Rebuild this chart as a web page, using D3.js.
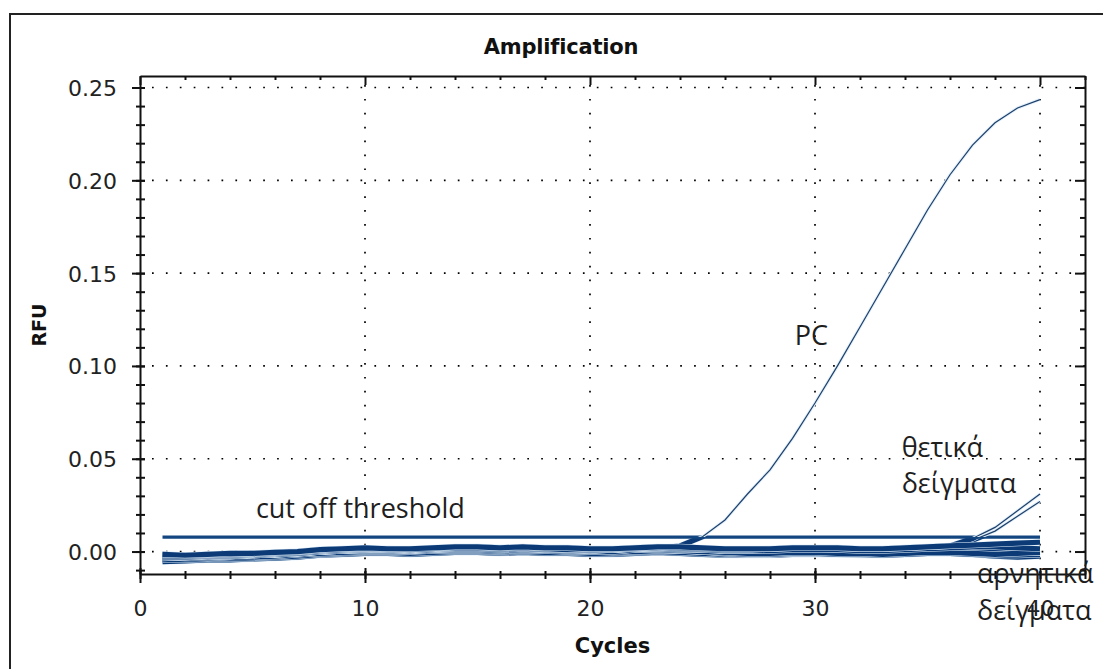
<!DOCTYPE html>
<html>
<head>
<meta charset="utf-8">
<script src="https://cdn.jsdelivr.net/npm/d3@7"></script>
<style>
  body { margin: 0; background: #fff; }
  svg { display: block; }
</style>
</head>
<body>
<div id="chart"></div>
<script>
// cycles 1..40
const cycles = [1,2,3,4,5,6,7,8,9,10,11,12,13,14,15,16,17,18,19,20,21,22,23,24,25,26,27,28,29,30,31,32,33,34,35,36,37,38,39,40];

// negative samples (RFU)
const neg1 = [-.0035,-.003,-.003,-.0025,-.002,-.0015,-.001,0,.0005,.001,.001,.0005,.001,.0015,.0015,.001,.0015,.001,.001,.0005,.0005,.001,.0015,.001,.0005,0,-.0005,-.0005,0,0,0,-.0005,-.0005,0,.0005,.0005,0,-.0005,-.0005,-.0005];
const neg2 = [-.0015,-.002,-.0015,-.001,-.001,-.0005,0,.001,.0015,.002,.0015,.0015,.002,.0025,.0025,.002,.0025,.002,.002,.0015,.0015,.002,.0025,.0025,.002,.0015,.0015,.0015,.002,.002,.002,.0015,.0015,.002,.0025,.003,.0035,.004,.0045,.005];
const neg3 = [-.0055,-.005,-.0045,-.0045,-.004,-.0035,-.003,-.002,-.0015,-.001,-.001,-.0015,-.001,-.0005,-.0005,-.001,-.0005,-.001,-.001,-.0015,-.0015,-.001,-.0005,-.001,-.0015,-.002,-.002,-.002,-.0015,-.0015,-.0015,-.002,-.002,-.0015,-.001,-.001,-.0015,-.0025,-.003,-.0025];
const neg4 = [-.0015,-.002,-.002,-.002,-.0015,-.001,0,.0005,.001,.001,.0015,.001,.0015,.002,.0025,.002,.002,.002,.0015,.0015,.001,.0015,.002,.0015,.001,.0005,.0005,.0005,.001,.001,.001,.0005,.0005,.001,.0015,.002,.0025,.0025,.002,.0015];
const neg5 = [-.0045,-.0045,-.004,-.004,-.0035,-.003,-.0025,-.0015,-.001,-.0005,-.0005,-.001,-.0005,0,0,-.0005,0,-.0005,-.0005,-.001,-.001,-.0005,0,-.0005,-.001,-.0015,-.0015,-.0015,-.001,-.001,-.0015,-.0015,-.0015,-.001,-.0005,0,.0005,0,-.0005,-.001];
const neg6 = [-.0025,-.003,-.0025,-.0025,-.002,-.0015,-.001,0,.0005,.0005,.0005,.0005,.001,.001,.001,.0005,.001,.001,.0005,.0005,0,.001,.001,.0005,0,-.0005,-.001,-.001,-.0005,-.0005,-.001,-.001,-.0015,-.001,-.0005,-.0005,-.001,-.0015,-.001,-.0005];
const neg7 = [-.003,-.0035,-.0035,-.003,-.003,-.0025,-.0015,-.001,-.0005,0,0,0,.0005,.0005,.0005,0,.0005,.0005,0,0,-.0005,0,.0005,.0005,0,-.001,-.0015,-.0015,-.001,-.001,-.0015,-.0015,-.002,-.0015,-.001,-.001,-.0015,-.002,-.002,-.0015];

// positive control and positive samples (RFU)
const pc = [-.0025,-.0025,-.002,-.002,-.0015,-.001,-.0005,.0005,.001,.0015,.001,.001,.0015,.002,.002,.0015,.002,.0015,.001,.001,.001,.0015,.002,.003,.008,.017,.031,.044,.061,.080,.100,.121,.142,.163,.184,.203,.219,.231,.239,.2435];
const pos1 = [-.002,-.002,-.0015,-.0015,-.001,-.0005,0,.001,.0015,.0015,.0015,.001,.0015,.0025,.0025,.002,.0025,.002,.002,.0015,.0015,.002,.0025,.002,.0015,.001,.001,.0015,.002,.002,.002,.0015,.0015,.002,.0025,.003,.007,.013,.022,.031];
const pos2 = [-.003,-.003,-.0025,-.0025,-.002,-.0015,-.001,0,.0005,.001,.001,.0005,.001,.0015,.0015,.001,.0015,.001,.001,.0005,.001,.0015,.0015,.001,.001,.0005,.0005,.001,.0015,.0015,.001,.001,.001,.0015,.002,.0025,.006,.011,.019,.027];

const threshold = 0.0078;

const xMajor = [0, 10, 20, 30, 40];
const xMinor = [0,2,4,6,8,10,12,14,16,18,20,22,24,26,28,30,32,34,36,38,40,42];
const yMajor = [0, 0.05, 0.10, 0.15, 0.20, 0.25];
const yMinor = [-0.01,0,0.01,0.02,0.03,0.04,0.05,0.06,0.07,0.08,0.09,0.10,0.11,0.12,0.13,0.14,0.15,0.16,0.17,0.18,0.19,0.20,0.21,0.22,0.23,0.24,0.25];

// annotation anchors in data units
const notes = [
    {text: 'cut off threshold', cycle: 5.15, rfu: 0.0180},
    {text: 'PC', cycle: 29.1, rfu: 0.1113},
    {text: 'θετικά', cycle: 33.85, rfu: 0.0509},
    {text: 'δείγματα', cycle: 33.85, rfu: 0.0315},
    {text: 'αρνητικά', cycle: 37.2, rfu: -0.0170},
    {text: 'δείγματα', cycle: 37.2, rfu: -0.0369}
];

const W = 1103, H = 669;
const dark = '#0b3a76';
const halo = '#e2f0fa';

const svg = d3.select('#chart').append('svg')
    .attr('width', W)
    .attr('height', H);

svg.append('rect').attr('width', W).attr('height', H).attr('fill', '#fff');

// outer frame (runs off the right and bottom edges)
svg.append('rect')
    .attr('x', 10).attr('y', 14)
    .attr('width', 1120).attr('height', 720)
    .attr('fill', 'none')
    .attr('stroke', '#222')
    .attr('stroke-width', 2);

const x = d3.scaleLinear().domain([0, 42]).range([140, 1085]);
const y = d3.scaleLinear().domain([-0.0121, 0.2562]).range([574, 76]);

// title and axis titles
svg.append('text')
    .attr('x', 561).attr('y', 54)
    .attr('text-anchor', 'middle')
    .style('font', 'bold 21px "DejaVu Sans"')
    .style('letter-spacing', '-0.2px')
    .attr('fill', '#111')
    .text('Amplification');

svg.append('text')
    .attr('x', (x.range()[0] + x.range()[1]) / 2).attr('y', 653)
    .attr('text-anchor', 'middle')
    .style('font', 'bold 21px "DejaVu Sans"')
    .attr('fill', '#111')
    .text('Cycles');

svg.append('text')
    .attr('transform', `translate(46,${(y.range()[0] + y.range()[1]) / 2}) rotate(-90)`)
    .attr('text-anchor', 'middle')
    .style('font', 'bold 19px "DejaVu Sans"')
    .attr('fill', '#111')
    .text('RFU');

// dotted grid
const grid = svg.append('g')
    .attr('stroke', '#000')
    .attr('stroke-width', 1.7)
    .attr('stroke-dasharray', '1.7 12.2');

grid.selectAll('.gx').data(xMajor.filter(d => d > 0)).join('line')
    .attr('x1', d => x(d)).attr('x2', d => x(d))
    .attr('y1', y.range()[1] + 9).attr('y2', y.range()[0]);

grid.selectAll('.gy').data(yMajor).join('line')
    .attr('x1', x.range()[0] + 12).attr('x2', x.range()[1])
    .attr('y1', d => y(d)).attr('y2', d => y(d));

// curves
const line = d3.line()
    .x((d, i) => x(cycles[i]))
    .y(d => y(d));

const defs = svg.append('defs');
defs.append('clipPath').attr('id', 'below').append('rect')
    .attr('x', 0).attr('y', y(threshold))
    .attr('width', W).attr('height', H);
defs.append('clipPath').attr('id', 'above').append('rect')
    .attr('x', 0).attr('y', 0)
    .attr('width', W).attr('height', y(threshold));

// baseline band: thick strokes below the threshold
const allSeries = [neg3, neg5, neg7, neg1, neg6, pos2, neg4, pc, pos1, neg2];
const band = svg.append('g').attr('clip-path', 'url(#below)').attr('fill', 'none');
allSeries.forEach(s => {
    band.append('path').attr('d', line(s))
        .attr('stroke', halo).attr('stroke-width', 6.2);
    band.append('path').attr('d', line(s))
        .attr('stroke', dark).attr('stroke-width', 5.2);
});

// threshold
svg.append('line')
    .attr('x1', x(cycles[0])).attr('x2', x(cycles[cycles.length - 1]))
    .attr('y1', y(threshold)).attr('y2', y(threshold))
    .attr('stroke', '#134681')
    .attr('stroke-width', 3.2);

// amplified curves, thin above the threshold
const rising = svg.append('g').attr('clip-path', 'url(#above)').attr('fill', 'none');
[pos1, pos2, pc].forEach(s => {
    rising.append('path').attr('d', line(s))
        .attr('stroke', halo).attr('stroke-width', 3.2);
    rising.append('path').attr('d', line(s))
        .attr('stroke', '#1e3f6a').attr('stroke-width', 1.2);
});

// axes
function styleAxis(g) {
    g.select('.domain').attr('stroke', '#111').attr('stroke-width', 2);
    g.selectAll('.tick line').attr('stroke', '#111').attr('stroke-width', 2);
}

const bottomMinor = svg.append('g')
    .attr('transform', `translate(0,${y.range()[0]})`)
    .call(d3.axisBottom(x).tickValues(xMinor).tickSizeOuter(0).tickFormat(''));
bottomMinor.selectAll('.tick line').attr('y1', -3).attr('y2', 5);
styleAxis(bottomMinor);

const bottom = svg.append('g')
    .attr('transform', `translate(0,${y.range()[0]})`)
    .call(d3.axisBottom(x).tickValues(xMajor).tickSizeOuter(0).tickFormat(d3.format('d')));
bottom.select('.domain').remove();
bottom.selectAll('.tick line').attr('y1', -6).attr('y2', 9);
bottom.selectAll('.tick text')
    .attr('y', 42).attr('dy', 0)
    .style('font', '22px "DejaVu Sans"')
    .attr('fill', '#222');
styleAxis(bottom);

const leftMinor = svg.append('g')
    .attr('transform', `translate(${x.range()[0]},0)`)
    .call(d3.axisLeft(y).tickValues(yMinor).tickSizeOuter(0).tickFormat(''));
leftMinor.selectAll('.tick line').attr('x1', -4).attr('x2', 5);
styleAxis(leftMinor);

const left = svg.append('g')
    .attr('transform', `translate(${x.range()[0]},0)`)
    .call(d3.axisLeft(y).tickValues(yMajor).tickSizeOuter(0).tickFormat(d3.format('.2f')));
left.select('.domain').remove();
left.selectAll('.tick line').attr('x1', -8).attr('x2', 5);
left.selectAll('.tick text')
    .attr('x', -23).attr('dy', '0.36em')
    .style('font', '22px "DejaVu Sans"')
    .attr('fill', '#222');
styleAxis(left);

const topMinor = svg.append('g')
    .attr('transform', `translate(0,${y.range()[1]})`)
    .call(d3.axisTop(x).tickValues(xMinor).tickSizeInner(-4).tickSizeOuter(0).tickFormat(''));
topMinor.selectAll('.tick').filter(d => xMajor.includes(d)).select('line').attr('y2', 9);
styleAxis(topMinor);

const rightMinor = svg.append('g')
    .attr('transform', `translate(${x.range()[1]},0)`)
    .call(d3.axisRight(y).tickValues(yMinor).tickSizeInner(-5).tickSizeOuter(0).tickFormat(''));
rightMinor.selectAll('.tick').filter(d => yMajor.includes(d)).select('line').attr('x2', -10);
styleAxis(rightMinor);

// annotations
svg.append('g').selectAll('text').data(notes).join('text')
    .attr('x', d => x(d.cycle))
    .attr('y', d => y(d.rfu))
    .style('font', '27px "Open Sans"')
    .attr('fill', '#1e1e1e')
    .text(d => d.text);
</script>
</body>
</html>
